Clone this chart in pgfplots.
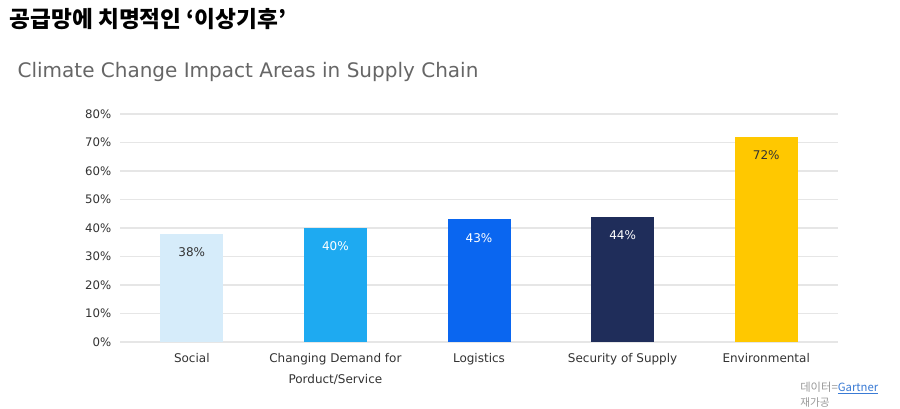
\documentclass[border=0pt]{standalone}
\usepackage{pgfplots}
\pgfplotsset{compat=1.18}
\usepackage{fontspec}
\setmainfont{DejaVu Sans}
\newfontfamily\kr{Noto Sans CJK KR}
\definecolor{cSoc}{HTML}{D6ECFA}
\definecolor{cDem}{HTML}{1EAAF1}
\definecolor{cLog}{HTML}{0A66F0}
\definecolor{cSec}{HTML}{1F2D5A}
\definecolor{cEnv}{HTML}{FFC800}
\definecolor{gridc}{HTML}{E6E6E6}
\definecolor{tickc}{HTML}{333333}
\begin{document}
\begin{tikzpicture}
\path[use as bounding box, fill=white] (0,0) rectangle (675pt,-306pt);
\node[anchor=west, inner sep=0pt] at (7pt,-14pt) {\kr\bfseries\fontsize{17}{19}\selectfont 공급망에 치명적인 ‘이상기후’};
\node[anchor=west, inner sep=0pt, text=black!60] at (13pt,-54pt) {\fontsize{15}{17}\selectfont Climate Change Impact Areas in Supply Chain};
\node[anchor=west, inner sep=0pt, text=black!40] at (600pt,-291pt) {\kr\fontsize{8.5}{9}\selectfont 데이터=\textcolor[HTML]{3A7BD5}{\underline{Gartner}}};
\node[anchor=west, inner sep=0pt, text=black!40] at (600pt,-302pt) {\kr\fontsize{8}{9}\selectfont 재가공};
\begin{axis}[
  at={(90pt,-256.5pt)}, anchor=south west,
  scale only axis, width=538.5pt, height=171pt,
  xmin=-0.5, xmax=4.5, ymin=0, ymax=80,
  ybar, bar width=47.25pt,
  axis line style={draw=none},
  major tick length=0pt,
  ytick={0,10,...,80},
  yticklabel={\pgfmathprintnumber{\tick}\%},
  /pgf/number format/assume math mode=true,
  yticklabel style={font=\fontsize{8.8}{10}\selectfont, text=tickc, xshift=-3pt},
  ymajorgrids, grid style={gridc, line width=0.8pt},
  xtick={0,1,2,3,4},
  xticklabels={Social,{Changing Demand for\\Porduct/Service},Logistics,Security of Supply,Environmental},
  xticklabel style={font=\fontsize{9}{16}\selectfont, text=tickc, align=center, anchor=north, yshift=-5pt},
  nodes near coords={\pgfmathprintnumber{\pgfplotspointmeta}\%},
  nodes near coords style={font=\fontsize{9}{10}\selectfont, anchor=north, yshift=-7pt},
]
\addplot[fill=cSoc, draw=none, bar shift=0pt, nodes near coords style={text=tickc}] coordinates {(0,38)};
\addplot[fill=cDem, draw=none, bar shift=0pt, nodes near coords style={text=white}] coordinates {(1,40)};
\addplot[fill=cLog, draw=none, bar shift=0pt, nodes near coords style={text=white}] coordinates {(2,43)};
\addplot[fill=cSec, draw=none, bar shift=0pt, nodes near coords style={text=white}] coordinates {(3,44)};
\addplot[fill=cEnv, draw=none, bar shift=0pt, nodes near coords style={text=tickc}] coordinates {(4,72)};
\end{axis}
\end{tikzpicture}
\end{document}
